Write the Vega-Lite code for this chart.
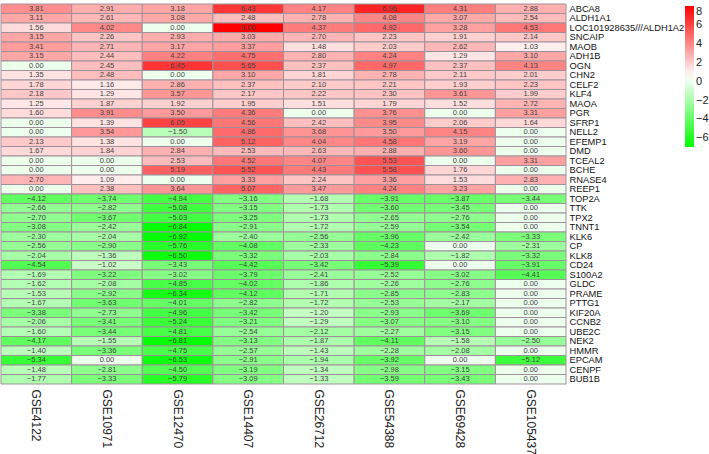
{
  "$schema": "https://vega.github.io/schema/vega-lite/v6.json",
  "width": 565,
  "height": 380,
  "padding": {"left": 0, "top": 3, "right": 0, "bottom": 0},
  "background": "white",
  "config": {"view": {"stroke": null}, "font": "Liberation Sans, Arial, sans-serif"},
  "data": {"values": [
{"g":"ABCA8","d":"GSE4122","v":3.81},{"g":"ABCA8","d":"GSE10971","v":2.91},{"g":"ABCA8","d":"GSE12470","v":3.18},{"g":"ABCA8","d":"GSE14407","v":6.43},{"g":"ABCA8","d":"GSE26712","v":4.17},{"g":"ABCA8","d":"GSE54388","v":6.96},{"g":"ABCA8","d":"GSE69428","v":4.31},{"g":"ABCA8","d":"GSE105437","v":2.88},
{"g":"ALDH1A1","d":"GSE4122","v":3.11},{"g":"ALDH1A1","d":"GSE10971","v":2.61},{"g":"ALDH1A1","d":"GSE12470","v":3.08},{"g":"ALDH1A1","d":"GSE14407","v":2.48},{"g":"ALDH1A1","d":"GSE26712","v":2.78},{"g":"ALDH1A1","d":"GSE54388","v":4.08},{"g":"ALDH1A1","d":"GSE69428","v":3.07},{"g":"ALDH1A1","d":"GSE105437","v":2.54},
{"g":"LOC101928635///ALDH1A2","d":"GSE4122","v":1.56},{"g":"LOC101928635///ALDH1A2","d":"GSE10971","v":4.02},{"g":"LOC101928635///ALDH1A2","d":"GSE12470","v":0.00},{"g":"LOC101928635///ALDH1A2","d":"GSE14407","v":8.00},{"g":"LOC101928635///ALDH1A2","d":"GSE26712","v":4.37},{"g":"LOC101928635///ALDH1A2","d":"GSE54388","v":4.92},{"g":"LOC101928635///ALDH1A2","d":"GSE69428","v":3.28},{"g":"LOC101928635///ALDH1A2","d":"GSE105437","v":4.53},
{"g":"SNCAIP","d":"GSE4122","v":3.15},{"g":"SNCAIP","d":"GSE10971","v":2.26},{"g":"SNCAIP","d":"GSE12470","v":2.93},{"g":"SNCAIP","d":"GSE14407","v":3.03},{"g":"SNCAIP","d":"GSE26712","v":2.70},{"g":"SNCAIP","d":"GSE54388","v":2.23},{"g":"SNCAIP","d":"GSE69428","v":1.91},{"g":"SNCAIP","d":"GSE105437","v":2.14},
{"g":"MAOB","d":"GSE4122","v":3.41},{"g":"MAOB","d":"GSE10971","v":2.71},{"g":"MAOB","d":"GSE12470","v":3.17},{"g":"MAOB","d":"GSE14407","v":3.37},{"g":"MAOB","d":"GSE26712","v":1.48},{"g":"MAOB","d":"GSE54388","v":2.03},{"g":"MAOB","d":"GSE69428","v":2.62},{"g":"MAOB","d":"GSE105437","v":1.03},
{"g":"ADH1B","d":"GSE4122","v":3.15},{"g":"ADH1B","d":"GSE10971","v":2.44},{"g":"ADH1B","d":"GSE12470","v":4.22},{"g":"ADH1B","d":"GSE14407","v":4.75},{"g":"ADH1B","d":"GSE26712","v":2.80},{"g":"ADH1B","d":"GSE54388","v":4.24},{"g":"ADH1B","d":"GSE69428","v":1.29},{"g":"ADH1B","d":"GSE105437","v":3.10},
{"g":"OGN","d":"GSE4122","v":0.00},{"g":"OGN","d":"GSE10971","v":2.45},{"g":"OGN","d":"GSE12470","v":6.45},{"g":"OGN","d":"GSE14407","v":5.65},{"g":"OGN","d":"GSE26712","v":2.37},{"g":"OGN","d":"GSE54388","v":4.97},{"g":"OGN","d":"GSE69428","v":2.37},{"g":"OGN","d":"GSE105437","v":4.13},
{"g":"CHN2","d":"GSE4122","v":1.35},{"g":"CHN2","d":"GSE10971","v":2.48},{"g":"CHN2","d":"GSE12470","v":0.00},{"g":"CHN2","d":"GSE14407","v":3.10},{"g":"CHN2","d":"GSE26712","v":1.81},{"g":"CHN2","d":"GSE54388","v":2.78},{"g":"CHN2","d":"GSE69428","v":2.11},{"g":"CHN2","d":"GSE105437","v":2.01},
{"g":"CELF2","d":"GSE4122","v":1.78},{"g":"CELF2","d":"GSE10971","v":1.16},{"g":"CELF2","d":"GSE12470","v":2.86},{"g":"CELF2","d":"GSE14407","v":2.37},{"g":"CELF2","d":"GSE26712","v":2.10},{"g":"CELF2","d":"GSE54388","v":2.21},{"g":"CELF2","d":"GSE69428","v":1.93},{"g":"CELF2","d":"GSE105437","v":2.23},
{"g":"KLF4","d":"GSE4122","v":2.18},{"g":"KLF4","d":"GSE10971","v":1.29},{"g":"KLF4","d":"GSE12470","v":3.57},{"g":"KLF4","d":"GSE14407","v":2.17},{"g":"KLF4","d":"GSE26712","v":2.22},{"g":"KLF4","d":"GSE54388","v":2.30},{"g":"KLF4","d":"GSE69428","v":3.61},{"g":"KLF4","d":"GSE105437","v":1.99},
{"g":"MAOA","d":"GSE4122","v":1.25},{"g":"MAOA","d":"GSE10971","v":1.87},{"g":"MAOA","d":"GSE12470","v":1.92},{"g":"MAOA","d":"GSE14407","v":1.95},{"g":"MAOA","d":"GSE26712","v":1.51},{"g":"MAOA","d":"GSE54388","v":1.79},{"g":"MAOA","d":"GSE69428","v":1.52},{"g":"MAOA","d":"GSE105437","v":2.72},
{"g":"PGR","d":"GSE4122","v":1.60},{"g":"PGR","d":"GSE10971","v":3.91},{"g":"PGR","d":"GSE12470","v":3.50},{"g":"PGR","d":"GSE14407","v":4.36},{"g":"PGR","d":"GSE26712","v":0.00},{"g":"PGR","d":"GSE54388","v":3.76},{"g":"PGR","d":"GSE69428","v":0.00},{"g":"PGR","d":"GSE105437","v":3.31},
{"g":"SFRP1","d":"GSE4122","v":0.00},{"g":"SFRP1","d":"GSE10971","v":1.39},{"g":"SFRP1","d":"GSE12470","v":6.05},{"g":"SFRP1","d":"GSE14407","v":4.56},{"g":"SFRP1","d":"GSE26712","v":2.42},{"g":"SFRP1","d":"GSE54388","v":3.95},{"g":"SFRP1","d":"GSE69428","v":2.06},{"g":"SFRP1","d":"GSE105437","v":1.64},
{"g":"NELL2","d":"GSE4122","v":0.00},{"g":"NELL2","d":"GSE10971","v":3.54},{"g":"NELL2","d":"GSE12470","v":-1.50},{"g":"NELL2","d":"GSE14407","v":4.86},{"g":"NELL2","d":"GSE26712","v":3.68},{"g":"NELL2","d":"GSE54388","v":3.50},{"g":"NELL2","d":"GSE69428","v":4.15},{"g":"NELL2","d":"GSE105437","v":0.00},
{"g":"EFEMP1","d":"GSE4122","v":2.13},{"g":"EFEMP1","d":"GSE10971","v":1.38},{"g":"EFEMP1","d":"GSE12470","v":0.00},{"g":"EFEMP1","d":"GSE14407","v":5.12},{"g":"EFEMP1","d":"GSE26712","v":4.04},{"g":"EFEMP1","d":"GSE54388","v":4.58},{"g":"EFEMP1","d":"GSE69428","v":3.19},{"g":"EFEMP1","d":"GSE105437","v":0.00},
{"g":"DMD","d":"GSE4122","v":1.67},{"g":"DMD","d":"GSE10971","v":1.84},{"g":"DMD","d":"GSE12470","v":2.84},{"g":"DMD","d":"GSE14407","v":2.53},{"g":"DMD","d":"GSE26712","v":2.63},{"g":"DMD","d":"GSE54388","v":2.88},{"g":"DMD","d":"GSE69428","v":3.60},{"g":"DMD","d":"GSE105437","v":0.00},
{"g":"TCEAL2","d":"GSE4122","v":0.00},{"g":"TCEAL2","d":"GSE10971","v":0.00},{"g":"TCEAL2","d":"GSE12470","v":2.53},{"g":"TCEAL2","d":"GSE14407","v":4.52},{"g":"TCEAL2","d":"GSE26712","v":4.07},{"g":"TCEAL2","d":"GSE54388","v":5.53},{"g":"TCEAL2","d":"GSE69428","v":0.00},{"g":"TCEAL2","d":"GSE105437","v":3.31},
{"g":"BCHE","d":"GSE4122","v":0.00},{"g":"BCHE","d":"GSE10971","v":0.00},{"g":"BCHE","d":"GSE12470","v":5.19},{"g":"BCHE","d":"GSE14407","v":5.52},{"g":"BCHE","d":"GSE26712","v":4.43},{"g":"BCHE","d":"GSE54388","v":5.58},{"g":"BCHE","d":"GSE69428","v":1.76},{"g":"BCHE","d":"GSE105437","v":0.00},
{"g":"RNASE4","d":"GSE4122","v":2.70},{"g":"RNASE4","d":"GSE10971","v":1.09},{"g":"RNASE4","d":"GSE12470","v":0.00},{"g":"RNASE4","d":"GSE14407","v":3.33},{"g":"RNASE4","d":"GSE26712","v":2.24},{"g":"RNASE4","d":"GSE54388","v":3.36},{"g":"RNASE4","d":"GSE69428","v":1.53},{"g":"RNASE4","d":"GSE105437","v":2.83},
{"g":"REEP1","d":"GSE4122","v":0.00},{"g":"REEP1","d":"GSE10971","v":2.38},{"g":"REEP1","d":"GSE12470","v":3.64},{"g":"REEP1","d":"GSE14407","v":5.07},{"g":"REEP1","d":"GSE26712","v":3.47},{"g":"REEP1","d":"GSE54388","v":4.24},{"g":"REEP1","d":"GSE69428","v":3.23},{"g":"REEP1","d":"GSE105437","v":0.00},
{"g":"TOP2A","d":"GSE4122","v":-4.12},{"g":"TOP2A","d":"GSE10971","v":-3.74},{"g":"TOP2A","d":"GSE12470","v":-4.94},{"g":"TOP2A","d":"GSE14407","v":-3.16},{"g":"TOP2A","d":"GSE26712","v":-1.68},{"g":"TOP2A","d":"GSE54388","v":-3.91},{"g":"TOP2A","d":"GSE69428","v":-3.87},{"g":"TOP2A","d":"GSE105437","v":-3.44},
{"g":"TTK","d":"GSE4122","v":-2.66},{"g":"TTK","d":"GSE10971","v":-2.82},{"g":"TTK","d":"GSE12470","v":-5.08},{"g":"TTK","d":"GSE14407","v":-3.15},{"g":"TTK","d":"GSE26712","v":-1.73},{"g":"TTK","d":"GSE54388","v":-3.60},{"g":"TTK","d":"GSE69428","v":-3.45},{"g":"TTK","d":"GSE105437","v":0.00},
{"g":"TPX2","d":"GSE4122","v":-2.70},{"g":"TPX2","d":"GSE10971","v":-3.67},{"g":"TPX2","d":"GSE12470","v":-5.03},{"g":"TPX2","d":"GSE14407","v":-3.25},{"g":"TPX2","d":"GSE26712","v":-1.73},{"g":"TPX2","d":"GSE54388","v":-2.65},{"g":"TPX2","d":"GSE69428","v":-2.76},{"g":"TPX2","d":"GSE105437","v":0.00},
{"g":"TNNT1","d":"GSE4122","v":-3.08},{"g":"TNNT1","d":"GSE10971","v":-2.42},{"g":"TNNT1","d":"GSE12470","v":-6.84},{"g":"TNNT1","d":"GSE14407","v":-2.91},{"g":"TNNT1","d":"GSE26712","v":-1.72},{"g":"TNNT1","d":"GSE54388","v":-2.59},{"g":"TNNT1","d":"GSE69428","v":-3.54},{"g":"TNNT1","d":"GSE105437","v":0.00},
{"g":"KLK6","d":"GSE4122","v":-2.30},{"g":"KLK6","d":"GSE10971","v":-2.04},{"g":"KLK6","d":"GSE12470","v":-6.92},{"g":"KLK6","d":"GSE14407","v":-2.40},{"g":"KLK6","d":"GSE26712","v":-2.56},{"g":"KLK6","d":"GSE54388","v":-3.96},{"g":"KLK6","d":"GSE69428","v":-2.42},{"g":"KLK6","d":"GSE105437","v":-3.33},
{"g":"CP","d":"GSE4122","v":-2.56},{"g":"CP","d":"GSE10971","v":-2.90},{"g":"CP","d":"GSE12470","v":-5.76},{"g":"CP","d":"GSE14407","v":-4.08},{"g":"CP","d":"GSE26712","v":-2.33},{"g":"CP","d":"GSE54388","v":-4.23},{"g":"CP","d":"GSE69428","v":0.00},{"g":"CP","d":"GSE105437","v":-2.31},
{"g":"KLK8","d":"GSE4122","v":-2.04},{"g":"KLK8","d":"GSE10971","v":-1.36},{"g":"KLK8","d":"GSE12470","v":-6.50},{"g":"KLK8","d":"GSE14407","v":-3.32},{"g":"KLK8","d":"GSE26712","v":-2.03},{"g":"KLK8","d":"GSE54388","v":-2.84},{"g":"KLK8","d":"GSE69428","v":-1.82},{"g":"KLK8","d":"GSE105437","v":-3.32},
{"g":"CD24","d":"GSE4122","v":-4.54},{"g":"CD24","d":"GSE10971","v":-1.02},{"g":"CD24","d":"GSE12470","v":-3.43},{"g":"CD24","d":"GSE14407","v":-4.42},{"g":"CD24","d":"GSE26712","v":-3.42},{"g":"CD24","d":"GSE54388","v":-5.39},{"g":"CD24","d":"GSE69428","v":0.00},{"g":"CD24","d":"GSE105437","v":-3.91},
{"g":"S100A2","d":"GSE4122","v":-1.69},{"g":"S100A2","d":"GSE10971","v":-3.22},{"g":"S100A2","d":"GSE12470","v":-3.02},{"g":"S100A2","d":"GSE14407","v":-3.79},{"g":"S100A2","d":"GSE26712","v":-2.41},{"g":"S100A2","d":"GSE54388","v":-2.52},{"g":"S100A2","d":"GSE69428","v":-3.02},{"g":"S100A2","d":"GSE105437","v":-4.41},
{"g":"GLDC","d":"GSE4122","v":-1.62},{"g":"GLDC","d":"GSE10971","v":-2.08},{"g":"GLDC","d":"GSE12470","v":-4.85},{"g":"GLDC","d":"GSE14407","v":-4.02},{"g":"GLDC","d":"GSE26712","v":-1.86},{"g":"GLDC","d":"GSE54388","v":-2.26},{"g":"GLDC","d":"GSE69428","v":-2.76},{"g":"GLDC","d":"GSE105437","v":0.00},
{"g":"PRAME","d":"GSE4122","v":-1.53},{"g":"PRAME","d":"GSE10971","v":-2.92},{"g":"PRAME","d":"GSE12470","v":-6.34},{"g":"PRAME","d":"GSE14407","v":-4.12},{"g":"PRAME","d":"GSE26712","v":-1.71},{"g":"PRAME","d":"GSE54388","v":-2.85},{"g":"PRAME","d":"GSE69428","v":-2.83},{"g":"PRAME","d":"GSE105437","v":0.00},
{"g":"PTTG1","d":"GSE4122","v":-1.67},{"g":"PTTG1","d":"GSE10971","v":-3.63},{"g":"PTTG1","d":"GSE12470","v":-4.01},{"g":"PTTG1","d":"GSE14407","v":-2.82},{"g":"PTTG1","d":"GSE26712","v":-1.72},{"g":"PTTG1","d":"GSE54388","v":-2.53},{"g":"PTTG1","d":"GSE69428","v":-2.17},{"g":"PTTG1","d":"GSE105437","v":0.00},
{"g":"KIF20A","d":"GSE4122","v":-3.38},{"g":"KIF20A","d":"GSE10971","v":-2.73},{"g":"KIF20A","d":"GSE12470","v":-4.96},{"g":"KIF20A","d":"GSE14407","v":-3.42},{"g":"KIF20A","d":"GSE26712","v":-1.20},{"g":"KIF20A","d":"GSE54388","v":-2.93},{"g":"KIF20A","d":"GSE69428","v":-3.69},{"g":"KIF20A","d":"GSE105437","v":0.00},
{"g":"CCNB2","d":"GSE4122","v":-2.06},{"g":"CCNB2","d":"GSE10971","v":-3.41},{"g":"CCNB2","d":"GSE12470","v":-5.24},{"g":"CCNB2","d":"GSE14407","v":-3.21},{"g":"CCNB2","d":"GSE26712","v":-1.29},{"g":"CCNB2","d":"GSE54388","v":-3.07},{"g":"CCNB2","d":"GSE69428","v":-3.10},{"g":"CCNB2","d":"GSE105437","v":0.00},
{"g":"UBE2C","d":"GSE4122","v":-1.60},{"g":"UBE2C","d":"GSE10971","v":-3.44},{"g":"UBE2C","d":"GSE12470","v":-4.81},{"g":"UBE2C","d":"GSE14407","v":-2.54},{"g":"UBE2C","d":"GSE26712","v":-2.12},{"g":"UBE2C","d":"GSE54388","v":-2.27},{"g":"UBE2C","d":"GSE69428","v":-3.15},{"g":"UBE2C","d":"GSE105437","v":0.00},
{"g":"NEK2","d":"GSE4122","v":-4.17},{"g":"NEK2","d":"GSE10971","v":-1.55},{"g":"NEK2","d":"GSE12470","v":-6.81},{"g":"NEK2","d":"GSE14407","v":-3.13},{"g":"NEK2","d":"GSE26712","v":-1.87},{"g":"NEK2","d":"GSE54388","v":-4.11},{"g":"NEK2","d":"GSE69428","v":-1.58},{"g":"NEK2","d":"GSE105437","v":-2.50},
{"g":"HMMR","d":"GSE4122","v":-1.40},{"g":"HMMR","d":"GSE10971","v":-3.36},{"g":"HMMR","d":"GSE12470","v":-4.75},{"g":"HMMR","d":"GSE14407","v":-2.57},{"g":"HMMR","d":"GSE26712","v":-1.43},{"g":"HMMR","d":"GSE54388","v":-2.28},{"g":"HMMR","d":"GSE69428","v":-2.08},{"g":"HMMR","d":"GSE105437","v":0.00},
{"g":"EPCAM","d":"GSE4122","v":-5.34},{"g":"EPCAM","d":"GSE10971","v":0.00},{"g":"EPCAM","d":"GSE12470","v":-6.53},{"g":"EPCAM","d":"GSE14407","v":-2.91},{"g":"EPCAM","d":"GSE26712","v":-1.94},{"g":"EPCAM","d":"GSE54388","v":-3.92},{"g":"EPCAM","d":"GSE69428","v":0.00},{"g":"EPCAM","d":"GSE105437","v":-5.12},
{"g":"CENPF","d":"GSE4122","v":-1.48},{"g":"CENPF","d":"GSE10971","v":-2.81},{"g":"CENPF","d":"GSE12470","v":-4.50},{"g":"CENPF","d":"GSE14407","v":-3.19},{"g":"CENPF","d":"GSE26712","v":-1.34},{"g":"CENPF","d":"GSE54388","v":-2.98},{"g":"CENPF","d":"GSE69428","v":-3.15},{"g":"CENPF","d":"GSE105437","v":0.00},
{"g":"BUB1B","d":"GSE4122","v":-1.77},{"g":"BUB1B","d":"GSE10971","v":-3.33},{"g":"BUB1B","d":"GSE12470","v":-5.79},{"g":"BUB1B","d":"GSE14407","v":-3.09},{"g":"BUB1B","d":"GSE26712","v":-1.33},{"g":"BUB1B","d":"GSE54388","v":-3.59},{"g":"BUB1B","d":"GSE69428","v":-3.43},{"g":"BUB1B","d":"GSE105437","v":0.00}
  ]},
  "encoding": {
    "x": {"field": "d", "type": "nominal", "sort": null,
      "scale": {"paddingInner": 0, "paddingOuter": 0},
      "axis": {"orient": "bottom", "title": null, "labelAngle": 90, "labelAlign": "left", "labelBaseline": "middle",
        "labelFontSize": 12, "labelColor": "#222", "ticks": false, "domain": false, "labelPadding": 5}},
    "y": {"field": "g", "type": "nominal", "sort": null,
      "scale": {"paddingInner": 0, "paddingOuter": 0},
      "axis": {"orient": "right", "title": null, "labelFontSize": 9.3, "labelColor": "#111", "ticks": false, "domain": false, "labelPadding": 3}}
  },
  "layer": [
    {"mark": {"type": "rect", "stroke": "#A0909A", "strokeWidth": 1},
     "encoding": {"color": {"field": "v", "type": "quantitative",
        "scale": {"domain": [-6.92, 0.54, 8], "range": ["#00FF00", "#FFFFFF", "#FF0000"], "interpolate": "rgb"},
        "legend": {"title": null, "orient": "none", "legendX": 684, "legendY": 2, "direction": "vertical",
          "gradientLength": 141, "gradientThickness": 9, "gradientStrokeWidth": 0, "values": [-6, -4, -2, 0, 2, 4, 6, 8],
          "labelFontSize": 11, "labelColor": "#222", "labelOffset": 2}}}},
    {"mark": {"type": "text", "fontSize": 7.5, "fill": "#444"},
     "encoding": {"text": {"field": "v", "type": "quantitative", "format": ".2f"}}}
  ]
}
